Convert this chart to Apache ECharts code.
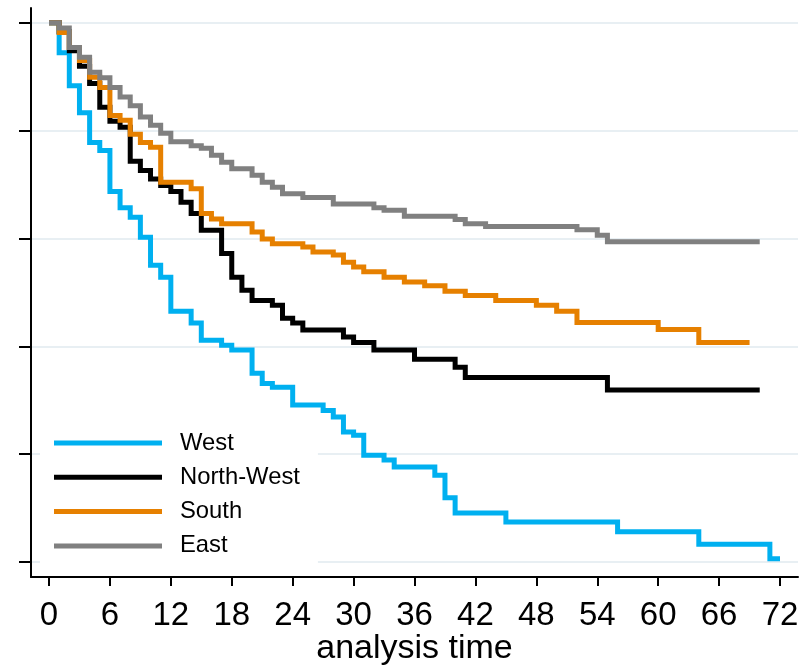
<!DOCTYPE html>
<html>
<head>
<meta charset="utf-8">
<script src="https://cdn.jsdelivr.net/npm/echarts@6/dist/echarts.min.js"></script>
<style>
  html, body { margin: 0; padding: 0; background: #fff; }
  #chart { width: 811px; height: 666px; }
</style>
</head>
<body>
<div id="chart"></div>
<script>
// Kaplan-Meier survival by region: event times (months) and survival after each drop
const xTicks = [0, 6, 12, 18, 24, 30, 36, 42, 48, 54, 60, 66, 72];
const yTicks = [0, 0.2, 0.4, 0.6, 0.8, 1];
const groups = ['West', 'North-West', 'South', 'East'];
const groupColors = ['#00b0f0', '#000000', '#e68000', '#808080'];

const westTime = [0, 1, 2, 3, 4, 5, 6, 7, 8, 9, 10, 11, 12, 14, 15, 17, 18, 20, 21, 22, 24, 27, 28, 29, 30, 31, 33, 34, 38, 39, 40, 45, 56, 64, 71, 72];
const westSurv = [1, 0.944, 0.883, 0.833, 0.778, 0.763, 0.687, 0.657, 0.639, 0.602, 0.550, 0.528, 0.465, 0.443, 0.411, 0.402, 0.393, 0.350, 0.331, 0.324, 0.291, 0.281, 0.269, 0.241, 0.235, 0.198, 0.189, 0.176, 0.161, 0.119, 0.091, 0.074, 0.056, 0.033, 0.006, 0.006];

const northWestTime = [0, 1, 2, 3, 4, 5, 6, 7, 8, 9, 10, 11, 12, 13, 14, 15, 17, 18, 19, 20, 22, 23, 24, 25, 29, 30, 32, 36, 40, 41, 55, 70];
const northWestSurv = [1, 0.983, 0.948, 0.919, 0.887, 0.843, 0.817, 0.806, 0.743, 0.726, 0.710, 0.698, 0.687, 0.667, 0.646, 0.615, 0.572, 0.528, 0.504, 0.485, 0.476, 0.452, 0.443, 0.430, 0.417, 0.407, 0.393, 0.376, 0.361, 0.342, 0.319, 0.319];

const southTime = [0, 1, 2, 3, 4, 5, 6, 7, 8, 9, 10, 11, 14, 15, 16, 17, 20, 21, 22, 25, 26, 28, 29, 30, 31, 33, 35, 37, 39, 41, 44, 48, 50, 52, 60, 64, 69];
const southSurv = [1, 0.982, 0.954, 0.930, 0.899, 0.880, 0.828, 0.819, 0.793, 0.778, 0.769, 0.704, 0.692, 0.646, 0.636, 0.627, 0.612, 0.599, 0.590, 0.584, 0.575, 0.569, 0.556, 0.547, 0.538, 0.528, 0.519, 0.512, 0.502, 0.494, 0.485, 0.476, 0.465, 0.444, 0.431, 0.407, 0.407];

const eastTime = [0, 1, 2, 3, 4, 5, 6, 7, 8, 9, 10, 11, 12, 14, 15, 16, 17, 18, 20, 21, 22, 23, 25, 28, 32, 33, 35, 40, 41, 43, 52, 54, 55, 70];
const eastSurv = [1, 0.990, 0.954, 0.936, 0.908, 0.898, 0.880, 0.862, 0.846, 0.825, 0.810, 0.795, 0.779, 0.772, 0.767, 0.754, 0.741, 0.729, 0.717, 0.704, 0.695, 0.683, 0.676, 0.664, 0.657, 0.652, 0.641, 0.635, 0.627, 0.622, 0.616, 0.606, 0.594, 0.594];

const curves = [
  [westTime, westSurv],
  [northWestTime, northWestSurv],
  [southTime, southSurv],
  [eastTime, eastSurv]
];

const FONT = '"Liberation Sans", Arial, sans-serif';

const chart = echarts.init(document.getElementById('chart'), null, { renderer: 'canvas' });

const series = groups.map((name, i) => ({
  name: name,
  type: 'line',
  step: 'end',
  showSymbol: false,
  symbol: 'none',
  animation: false,
  data: curves[i][0].map((t, k) => [t, curves[i][1][k]]),
  lineStyle: { color: groupColors[i], width: 5, join: 'miter', cap: 'butt' },
  itemStyle: { color: groupColors[i] },
  z: 2 + i
}));

chart.setOption({
  animation: false,
  backgroundColor: '#ffffff',
  grid: { left: 31, right: 13, top: 8, bottom: 89, outerBoundsMode: 'none' },
  legend: {
    orient: 'vertical',
    left: 40,
    top: 420,
    padding: [11, 18, 10, 14],
    backgroundColor: '#ffffff',
    icon: 'rect',
    itemWidth: 108,
    itemHeight: 5,
    itemGap: 10.3,
    selectedMode: false,
    data: groups,
    textStyle: { fontFamily: FONT, fontSize: 23.8, color: '#000', lineHeight: 24, padding: [0, 0, 0, 13] },
    z: 10
  },
  xAxis: {
    type: 'value',
    min: -1.773,
    max: 73.77,
    name: 'analysis time',
    nameLocation: 'middle',
    nameGap: 55,
    nameMoveOverlap: false,
    nameTextStyle: { fontFamily: FONT, fontSize: 34, color: '#000' },
    axisLine: { show: true, onZero: false, lineStyle: { color: '#000', width: 2 } },
    axisTick: { show: true, inside: false, length: 9, lineStyle: { color: '#000', width: 2 }, customValues: xTicks },
    axisLabel: { show: true, margin: 22, fontFamily: FONT, fontSize: 33, color: '#000', customValues: xTicks },
    splitLine: { show: false }
  },
  yAxis: {
    type: 'value',
    min: -0.0278,
    max: 1.0272,
    axisLine: { show: true, onZero: false, lineStyle: { color: '#000', width: 2 } },
    axisTick: { show: true, inside: false, length: 12, lineStyle: { color: '#000', width: 2 }, customValues: yTicks },
    axisLabel: { show: false, customValues: yTicks },
    splitLine: { show: true, lineStyle: { color: '#e8eff3', width: 2 } }
  },
  series: series
});
</script>
</body>
</html>
